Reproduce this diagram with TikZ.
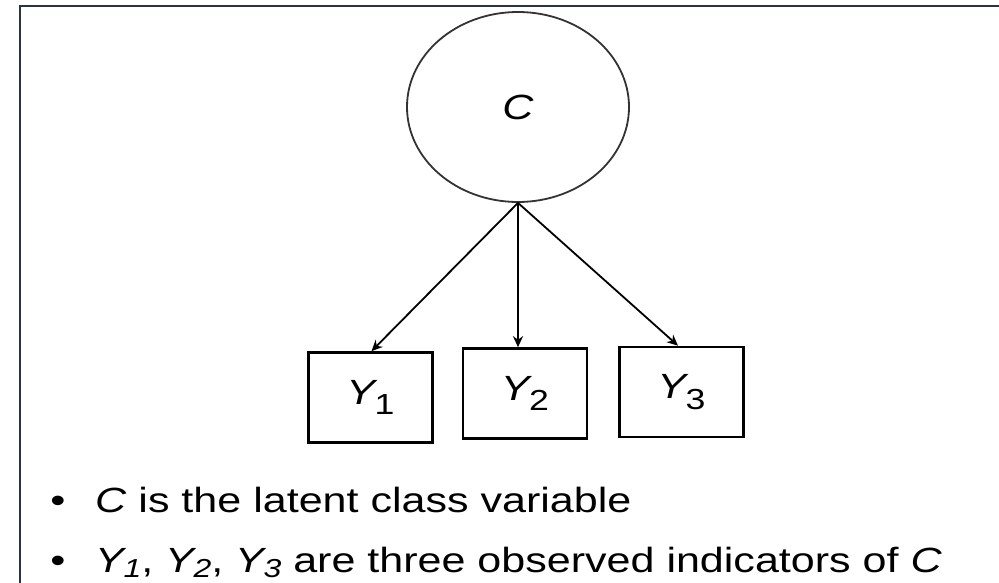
\documentclass[tikz,border=0pt]{standalone}
\usepackage{fontspec}
\setmainfont[FakeStretch=1.23]{Liberation Sans}
\usetikzlibrary{shapes.geometric,arrows.meta}

\definecolor{framecol}{HTML}{2B3340}
\definecolor{inkgray}{HTML}{333333}

\tikzset{
  latent/.style={ellipse, draw=inkgray, line width=1.8pt,
    minimum width=222pt, minimum height=190pt, inner sep=0pt,
    font=\fontsize{35}{42}\selectfont\itshape},
  indicator/.style={rectangle, draw=black, line width=2.6pt,
    minimum width=124pt, minimum height=90pt, inner sep=0pt,
    font=\fontsize{35}{42}\selectfont},
  loading/.style={draw=black, line width=1.8pt,
    -{Stealth[length=11pt,width=10pt]}},
  bullettext/.style={anchor=base west, inner sep=0pt,
    font=\fontsize{35}{42}\selectfont},
  bulletmark/.style={anchor=base, inner sep=0pt,
    font=\fontsize{35}{42}\selectfont},
}

% Y with an upright subscript (boxes) or an italic one (running text)
\newcommand{\obsvar}[1]{\textit{Y}\kern-3pt\raisebox{-0.3em}{\fontsize{29}{34}\selectfont #1}}
\newcommand{\obsvarit}[1]{\textit{Y}\kern-3pt\raisebox{-0.17em}{\fontsize{26}{30}\selectfont\itshape #1}}

\begin{document}
\begin{tikzpicture}[x=1pt,y=-1pt]
  \useasboundingbox (0,0) rectangle (999,583);

  % frame (top and left edges)
  \draw[framecol, line width=2.2pt] (20,583) -- (20,6) -- (999,6);

  % latent class variable
  \node[latent] (c) at (518,107) {C};

  % observed indicators
  \node[indicator] (y1) at (370.5,397.5) {\obsvar{1}};
  \node[indicator] (y2) at (525,393.5) {\obsvar{2}};
  \node[indicator] (y3) at (681.5,392) {\obsvar{3}};

  % loadings
  \draw[loading] (c.south) -- ([xshift=1pt]y1.north);
  \draw[loading] (c.south) -- ([xshift=-7pt]y2.north);
  \draw[loading] (c.south) -- ([xshift=-3.5pt]y3.north);

  % bullet list
  \node[bulletmark] (b1) at (58,512) {•};
  \node[bullettext] (t1) at (95,512) {\textit{C} is the latent class variable};
  \node[bulletmark] (b2) at (58,572) {•};
  \node[bullettext] (t2) at (95,572) {\obsvarit{1}, \obsvarit{2}, \obsvarit{3} are three observed indicators of \textit{C}};
\end{tikzpicture}
\end{document}
